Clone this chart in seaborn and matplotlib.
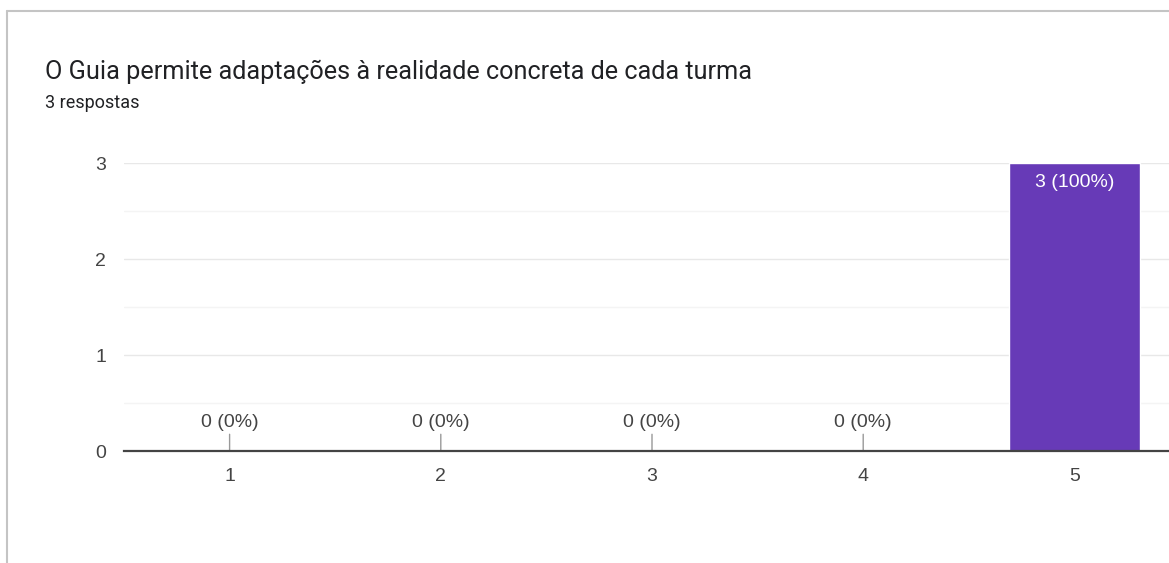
import matplotlib
matplotlib.use("Agg")
import matplotlib.pyplot as plt
from matplotlib.lines import Line2D
import seaborn as sns
import pandas as pd

# dados do gráfico
categorias = ["1", "2", "3", "4", "5"]
respostas = [0, 0, 0, 0, 3]
total = 3

titulo = "O Guia permite adaptações à realidade concreta de cada turma"
subtitulo = "3 respostas"

sns.set_theme(style="white")
plt.rcParams['font.family'] = ['Liberation Sans', 'DejaVu Sans']

df = pd.DataFrame({"opcao": categorias, "n": respostas})

fig = plt.figure(figsize=(11.69, 5.63), dpi=100)
ax = fig.add_axes([124 / 1169, 112 / 563, 1056 / 1169, 288 / 563])

sns.barplot(data=df, x="opcao", y="n", order=categorias, color="#673ab7",
            saturation=1, width=0.62, ax=ax, zorder=3)

ax.set_xlim(-0.5, 4.5)
ax.set_ylim(0, 3)
ax.set_yticks([0, 1, 2, 3])
ax.set_yticks([0.5, 1.5, 2.5], minor=True)
ax.grid(axis="y", which="major", color="#e8e8e8", lw=1, zorder=0)
ax.grid(axis="y", which="minor", color="#f4f4f4", lw=1, zorder=0)
ax.set_xlabel("")
ax.set_ylabel("")
for s in ["top", "right", "left"]:
    ax.spines[s].set_visible(False)
ax.spines["bottom"].set_color("#444444")
ax.spines["bottom"].set_linewidth(1.6)
ax.spines["bottom"].set_zorder(5)
ax.tick_params(axis="both", which="both", length=0, labelsize=14, labelcolor="#444444")
ax.tick_params(axis="x", pad=12)
ax.tick_params(axis="y", pad=13)

for i, v in enumerate(respostas):
    rotulo = f"{v} ({round(100 * v / total)}%)"
    if v == 0:
        ax.annotate(rotulo, xy=(i, 0), xytext=(0, 20), textcoords="offset pixels",
                    ha="center", va="bottom", fontsize=14, color="#444444",
                    arrowprops=dict(arrowstyle="-", color="#999999", lw=1,
                                    shrinkA=0, shrinkB=0))
    else:
        ax.annotate(rotulo, xy=(i, v), xytext=(0, -11), textcoords="offset pixels",
                    ha="center", va="top", fontsize=14, color="white")

fig.text(45 / 1169, 1 - 72 / 563, titulo, fontsize=18.2, color="#202124", va="center",
         family=['Roboto', 'DejaVu Sans'])
fig.text(45 / 1169, 1 - 103 / 563, subtitulo, fontsize=13, color="#202124", va="center",
         family=['Roboto', 'DejaVu Sans'])

# moldura do cartão
fig.add_artist(Line2D([7 / 1169, 7 / 1169], [0, 1 - 11 / 563], transform=fig.transFigure,
                      color="#c4c4c4", lw=1.5))
fig.add_artist(Line2D([7 / 1169, 1], [1 - 11 / 563, 1 - 11 / 563], transform=fig.transFigure,
                      color="#c4c4c4", lw=1.5))

fig.savefig("out.png", dpi=100)
